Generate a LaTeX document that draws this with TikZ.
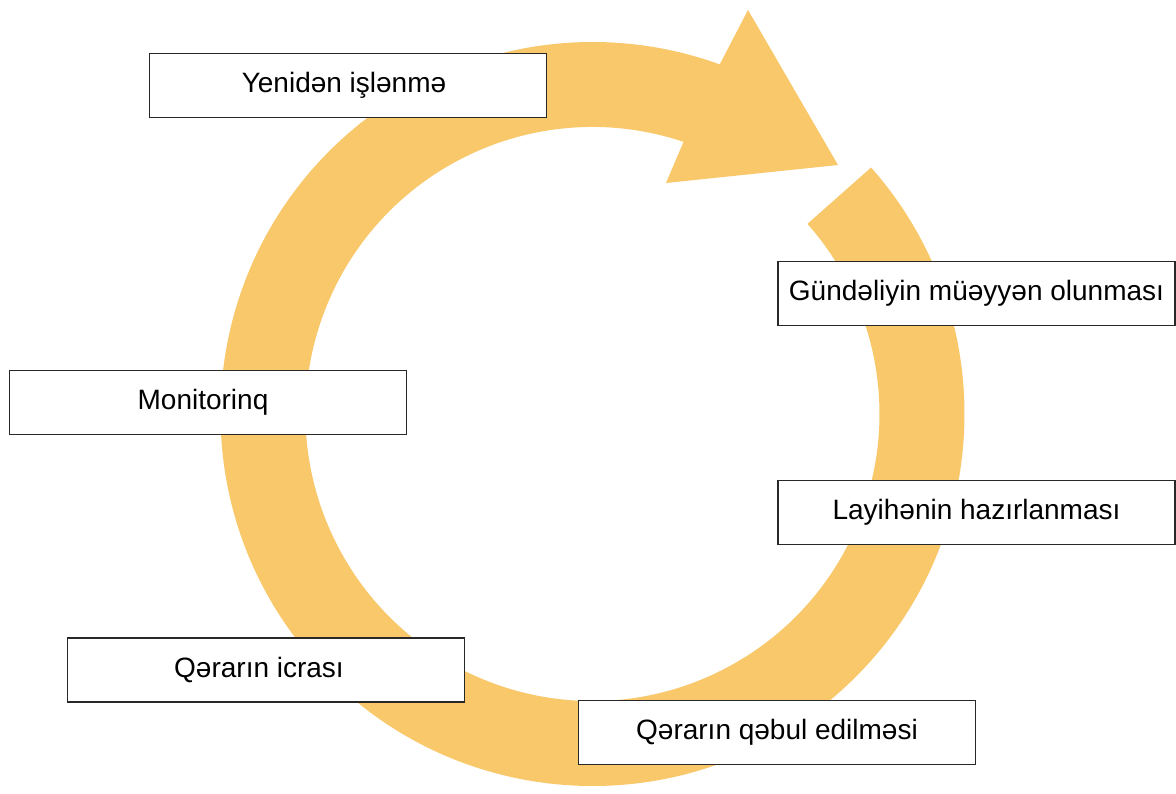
\documentclass[tikz,border=0pt]{standalone}
\usepackage{fontspec}
\setmainfont{Liberation Sans}
\usetikzlibrary{calc}
\definecolor{ringc}{RGB}{248,200,106}
\definecolor{boxline}{RGB}{40,40,40}
\begin{document}
\begin{tikzpicture}[x=1pt,y=1pt,
  stagebox/.style={draw=boxline, line width=1.6pt, fill=white, inner sep=0pt,
    minimum width=397pt, minimum height=64pt, align=center,
    font=\fontsize{28}{32}\selectfont, text=black}]
\useasboundingbox[fill=white] (0,0) rectangle (1176,-793);
\coordinate (C) at (592.5,-414);
\coordinate (headA) at (748,-10);
\coordinate (tip) at (838,-165);
\coordinate (headB) at (666,-183);
% circular arrow
\fill[ringc] ($(C)+(41.5:372)$) arc[start angle=41.5, end angle=-290, radius=372]
  -- (headA) -- (tip) -- (headB)
  -- ($(C)+(-288.5:287)$) arc[start angle=-288.5, end angle=41.5, radius=287] -- cycle;
% stages
\node[stagebox] (yen) at (348,-85.5) {\hspace*{-8pt}Yenidən işlənmə};
\node[stagebox] (gun) at (976.5,-293.5) {Gündəliyin müəyyən olunması};
\node[stagebox] (lay) at (976.5,-512.5) {Layihənin hazırlanması};
\node[stagebox] (mon) at (208,-402.5) {\hspace*{-10pt}Monitorinq};
\node[stagebox] (icr) at (266,-670) {\hspace*{-14pt}Qərarın icrası};
\node[stagebox] (qeb) at (777,-732.5) {Qərarın qəbul edilməsi};
\end{tikzpicture}
\end{document}
